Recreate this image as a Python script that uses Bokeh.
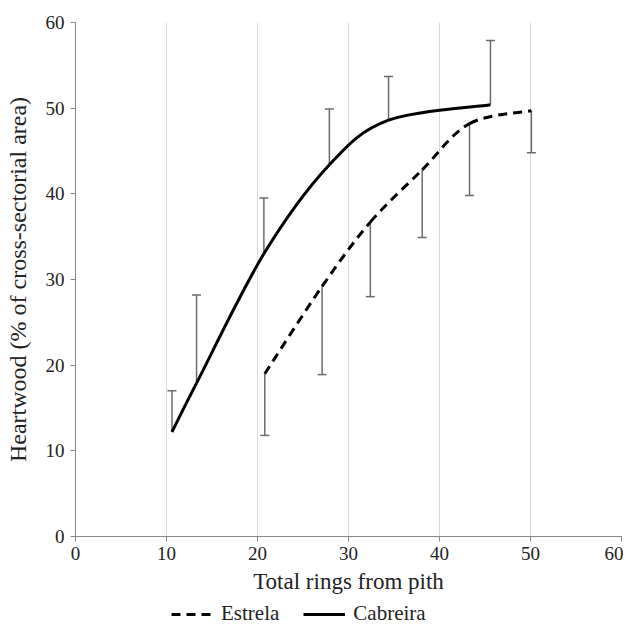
from bokeh.plotting import figure
from bokeh.layouts import column
from bokeh.models import ColumnDataSource, Whisker, TeeHead, Legend, LegendItem, FixedTicker, Range1d
from bokeh.embed import file_html
from bokeh.resources import INLINE

# Data
cab_x = [10.6, 13.3, 20.7, 27.9, 34.4, 45.6]
cab_y = [12.2, 17.9, 33.0, 43.4, 48.6, 50.4]
cab_sd = [4.8, 10.3, 6.5, 6.5, 5.1, 7.5]

est_x = [20.8, 27.1, 32.4, 38.1, 43.3, 50.1]
est_y = [19.0, 29.2, 36.7, 42.8, 48.2, 49.7]
est_sd = [7.2, 10.3, 8.7, 7.9, 8.4, 4.9]

ticks = [0, 10, 20, 30, 40, 50, 60]

FONT = "Liberation Serif"
AXIS_COLOR = "#868686"
BAR_COLOR = "#6b6b6b"
DASH = "9 6"

p = figure(frame_width=546, frame_height=514, output_backend="svg", toolbar_location=None,
           x_range=Range1d(0, 60), y_range=Range1d(0, 60),
           min_border_left=75, min_border_right=2, min_border_top=22, min_border_bottom=0)
p.outline_line_color = None
p.xgrid.grid_line_color = "#d9d9d9"
p.xgrid.ticker = FixedTicker(ticks=ticks)
p.ygrid.grid_line_color = None

for ax in (p.xaxis[0], p.yaxis[0]):
    ax.ticker = FixedTicker(ticks=ticks)
    ax.axis_line_color = AXIS_COLOR
    ax.major_tick_line_color = AXIS_COLOR
    ax.major_tick_out = 5
    ax.major_tick_in = 0
    ax.minor_tick_line_color = None
    ax.major_label_text_font = FONT
    ax.major_label_text_font_size = "19px"
    ax.major_label_text_color = "#222222"
    ax.axis_label_text_font = FONT
    ax.axis_label_text_font_style = "normal"
    ax.axis_label_text_color = "#222222"

p.xaxis.axis_label = "Total rings from pith"
p.yaxis.axis_label = "Heartwood (% of cross-sectorial area)"
p.xaxis.axis_label_text_font_size = "23px"
p.yaxis.axis_label_text_font_size = "24px"
p.xaxis.major_label_standoff = 5
p.xaxis.axis_label_standoff = 6
p.yaxis.major_label_standoff = 6
p.yaxis.axis_label_standoff = 12


def smooth_segments(xs, ys):
    n = len(xs)
    x0, y0, x1, y1, cx0, cy0, cx1, cy1 = [], [], [], [], [], [], [], []
    for i in range(n - 1):
        xm, ym = (xs[i - 1], ys[i - 1]) if i > 0 else (xs[i], ys[i])
        xp, yp = (xs[i + 2], ys[i + 2]) if i + 2 < n else (xs[i + 1], ys[i + 1])
        x0.append(xs[i]); y0.append(ys[i])
        x1.append(xs[i + 1]); y1.append(ys[i + 1])
        cx0.append(xs[i] + (xs[i + 1] - xm) / 6); cy0.append(ys[i] + (ys[i + 1] - ym) / 6)
        cx1.append(xs[i + 1] - (xp - xs[i]) / 6); cy1.append(ys[i + 1] - (yp - ys[i]) / 6)
    return ColumnDataSource(dict(x0=x0, y0=y0, x1=x1, y1=y1, cx0=cx0, cy0=cy0, cx1=cx1, cy1=cy1))


# Error bars: Cabreira upward, Estrela downward
cab_src = ColumnDataSource(dict(x=cab_x, lo=cab_y, hi=[m + s for m, s in zip(cab_y, cab_sd)]))
est_src = ColumnDataSource(dict(x=est_x, hi=est_y, lo=[m - s for m, s in zip(est_y, est_sd)]))

w1 = Whisker(source=cab_src, base="x", lower="lo", upper="hi", dimension="height",
             line_color=BAR_COLOR, line_width=1.5, lower_head=None,
             upper_head=TeeHead(size=9, line_color=BAR_COLOR, line_width=1.5))
w2 = Whisker(source=est_src, base="x", lower="lo", upper="hi", dimension="height",
             line_color=BAR_COLOR, line_width=1.5, upper_head=None,
             lower_head=TeeHead(size=9, line_color=BAR_COLOR, line_width=1.5))
p.add_layout(w1)
p.add_layout(w2)

# Smoothed lines
p.bezier(x0="x0", y0="y0", x1="x1", y1="y1", cx0="cx0", cy0="cy0", cx1="cx1", cy1="cy1",
         source=smooth_segments(cab_x, cab_y), line_color="black", line_width=3)
p.bezier(x0="x0", y0="y0", x1="x1", y1="y1", cx0="cx0", cy0="cy0", cx1="cx1", cy1="cy1",
         source=smooth_segments(est_x, est_y), line_color="black", line_width=3,
         line_dash=DASH)

# Legend strip below the chart
lg = figure(width=623, height=34, output_backend="svg", toolbar_location=None,
            x_range=Range1d(0, 60), y_range=Range1d(-100, -99),
            x_axis_type=None, y_axis_type=None, min_border=0)
lg.outline_line_color = None
lg.grid.grid_line_color = None
le = lg.line(x=est_x, y=est_y, line_color="black", line_width=3, line_dash=DASH)
lc = lg.line(x=cab_x, y=cab_y, line_color="black", line_width=3)
legend = Legend(items=[LegendItem(label="Estrela", renderers=[le]),
                       LegendItem(label="Cabreira", renderers=[lc])],
                orientation="horizontal", location=(96, 4),
                label_text_font="Liberation Serif, Times New Roman, serif",
                label_text_font_size="21px", label_text_color="#222222",
                border_line_color=None, background_fill_alpha=0,
                glyph_width=42, label_standoff=8, spacing=24, padding=2, margin=0)
lg.add_layout(legend)

open("out.html", "w").write(file_html(column(p, lg, spacing=0), INLINE))
